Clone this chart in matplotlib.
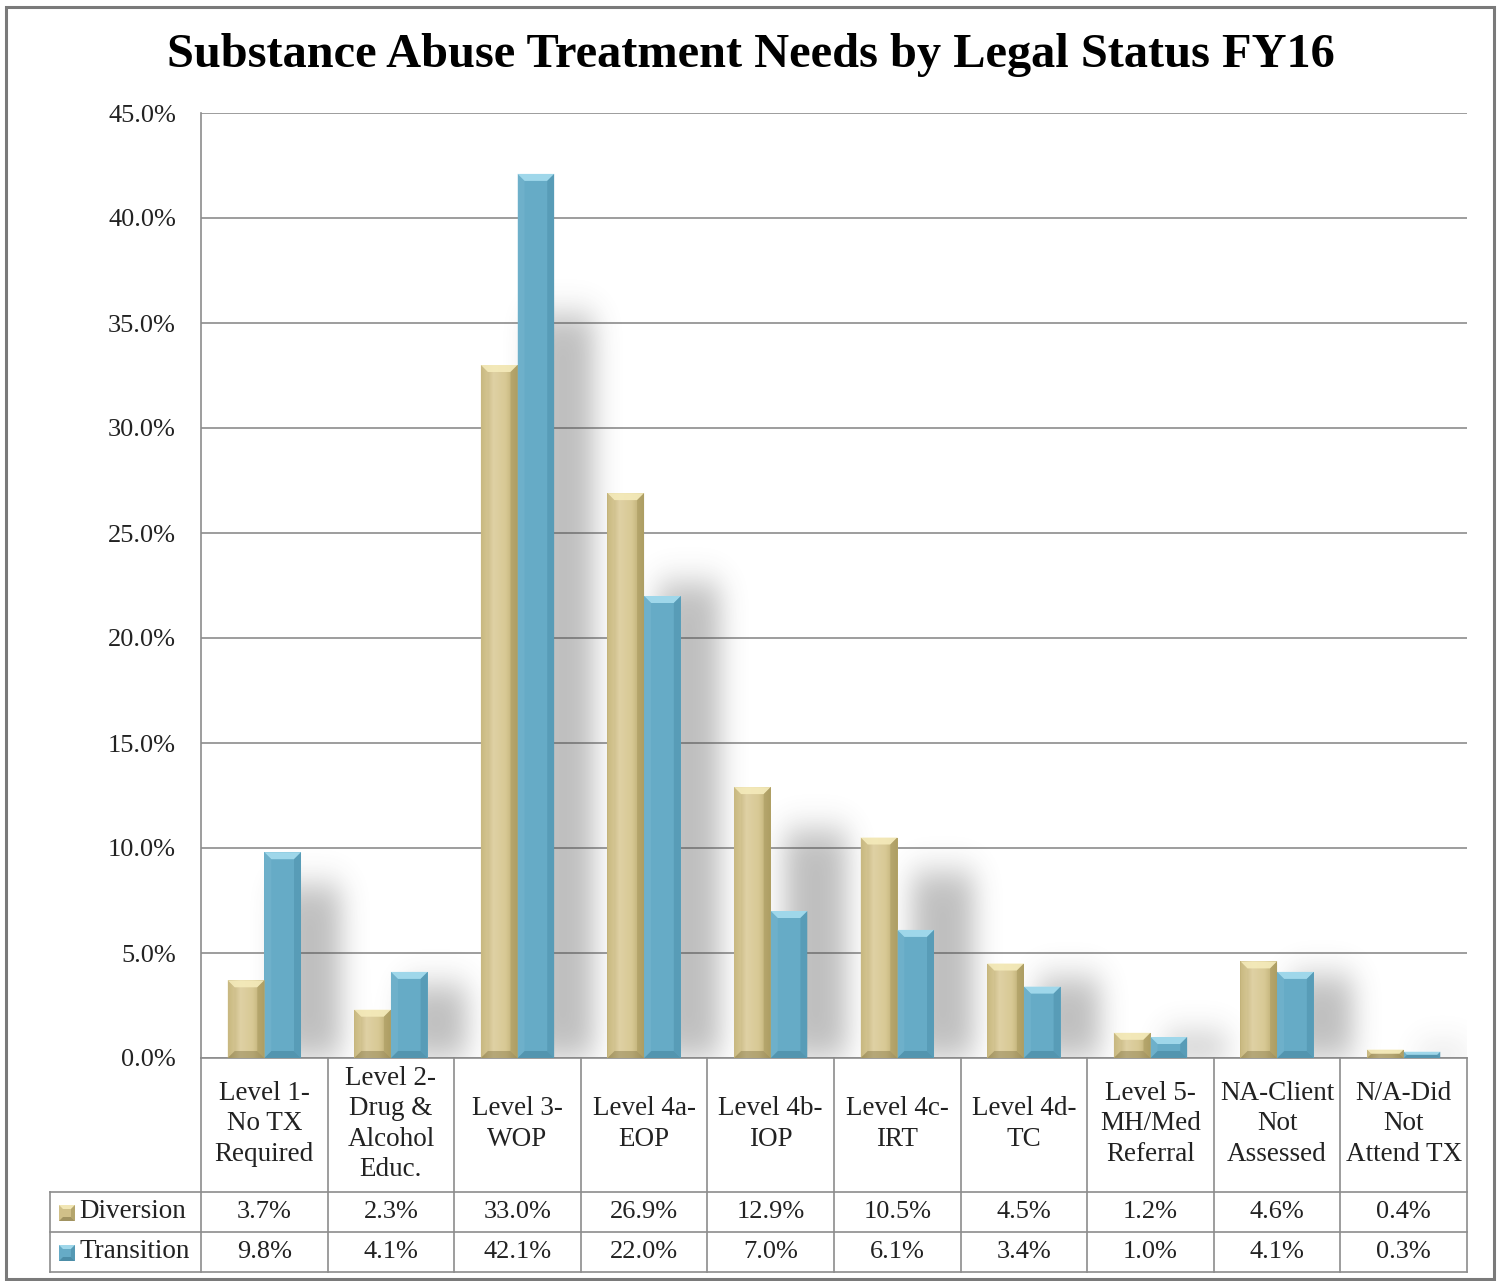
import numpy as np
import matplotlib
matplotlib.use("Agg")
import matplotlib.pyplot as plt
from matplotlib.patches import Polygon, Rectangle
from matplotlib.lines import Line2D

# ---------------- data ----------------
title = "Substance Abuse Treatment Needs by Legal Status FY16"
categories = ["Level 1-\nNo TX\nRequired", "Level 2-\nDrug &\nAlcohol\nEduc.",
              "Level 3-\nWOP", "Level 4a-\nEOP", "Level 4b-\nIOP",
              "Level 4c-\nIRT", "Level 4d-\nTC", "Level 5-\nMH/Med\nReferral",
              "NA-Client\nNot\nAssessed", "N/A-Did\nNot\nAttend TX"]
diversion = [3.7, 2.3, 33.0, 26.9, 12.9, 10.5, 4.5, 1.2, 4.6, 0.4]
transition = [9.8, 4.1, 42.1, 22.0, 7.0, 6.1, 3.4, 1.0, 4.1, 0.3]
series_names = ["Diversion", "Transition"]
yticks = [0, 5, 10, 15, 20, 25, 30, 35, 40, 45]

# ---------------- layout ----------------
W, H, DPI = 1501, 1281, 100
FONT = "Liberation Serif"
plt.rcParams["font.family"] = [FONT, "DejaVu Serif"]

fig = plt.figure(figsize=(W / DPI, H / DPI), dpi=DPI)
fig.patch.set_facecolor("white")

AX_L, AX_R, AX_T, AX_B = 201, 1467, 113, 1058
ax = fig.add_axes([AX_L / W, 1 - AX_B / H, (AX_R - AX_L) / W, (AX_B - AX_T) / H])
ncat = len(categories)
ax.set_xlim(0, ncat)
ax.set_ylim(0, 45)
ax.patch.set_visible(False)

GRID = "#8c8c8c"
ax.set_yticks(yticks)
ax.set_yticklabels([f"{v:.1f}%" for v in yticks], fontsize=19, color="#222222")
ax.tick_params(axis="y", length=0, pad=18)
ax.set_xticks([])
ax.yaxis.grid(True, color=GRID, lw=1.2, zorder=0)
ax.set_axisbelow(True)
for s in ["top", "right"]:
    ax.spines[s].set_visible(False)
ax.spines["left"].set_color(GRID)
ax.spines["left"].set_linewidth(1.2)
ax.spines["bottom"].set_color(GRID)
ax.spines["bottom"].set_linewidth(1.2)

px_x = ncat / (AX_R - AX_L)        # data units per pixel (x)
px_y = 45.0 / (AX_B - AX_T)        # data units per pixel (y)

bw = 0.29
xc = np.arange(ncat) + 0.5

# ---------------- soft shadows ----------------
nx, ny = AX_R - AX_L, AX_B - AX_T
shadow = np.zeros((ny, nx))
for i in range(ncat):
    top = max(diversion[i], transition[i]) * 0.84
    x0 = (xc[i] + bw) / px_x - 22
    x1 = x0 + 62
    ytop = ny - top / px_y
    shadow[int(max(ytop, 0)):ny, int(x0):int(min(x1, nx))] = 1.0

def blur(a, sigma, axis):
    r = int(3 * sigma)
    k = np.exp(-0.5 * (np.arange(-r, r + 1) / sigma) ** 2)
    k /= k.sum()
    return np.apply_along_axis(lambda m: np.convolve(m, k, mode="same"), axis, a)

shadow = blur(blur(shadow, 13, 1), 16, 0)
rgba = np.zeros((ny, nx, 4))
rgba[..., :3] = 0.3
rgba[..., 3] = shadow * 0.36
ax.imshow(rgba, extent=[0, ncat, 0, 45], aspect="auto", zorder=1, interpolation="bilinear")

# ---------------- beveled bars ----------------
gold = dict(face="#D0C089", top="#F5EBBB", left="#DACB97", right="#A99A60", bottom="#8E8050",
            grad=["#BBAA6F", "#DFD1A4", "#D8C995", "#B4A468"])
blue = dict(face="#66ABC6", top="#A6DDEF", left="#78B8D1", right="#4F92AD", bottom="#42819A",
            grad=None)

def draw_bar(x0, h, st):
    x1 = x0 + bw
    rect = Rectangle((x0, 0), bw, h, facecolor=st["face"], edgecolor="none", zorder=3)
    ax.add_patch(rect)
    if st["grad"] is not None:
        cols = [matplotlib.colors.to_rgb(c) for c in st["grad"]]
        g = np.linspace(0, 1, 60)
        stops = np.linspace(0, 1, len(cols))
        img = np.stack([np.interp(g, stops, [c[k] for c in cols]) for k in range(3)], axis=-1)
        im = ax.imshow(img[None, :, :], extent=[x0, x1, 0, h], aspect="auto", zorder=3.1,
                       interpolation="bilinear")
        im.set_clip_path(rect)
    dx = 7 * px_x
    dy = min(7 * px_y, h / 2)
    dxs = min(dx, dy / px_y * px_x) if h / 2 < 7 * px_y else dx
    polys = [
        ([(x0, h), (x1, h), (x1 - dxs, h - dy), (x0 + dxs, h - dy)], st["top"], 0.9),
        ([(x0, 0), (x1, 0), (x1 - dxs, dy), (x0 + dxs, dy)], st["bottom"], 0.5),
        ([(x0, 0), (x0, h), (x0 + dxs, h - dy), (x0 + dxs, dy)], st["left"], 0.45),
        ([(x1, 0), (x1, h), (x1 - dxs, h - dy), (x1 - dxs, dy)], st["right"], 0.6),
    ]
    for pts, c, a in polys:
        ax.add_patch(Polygon(pts, closed=True, facecolor=c, edgecolor="none", alpha=a, zorder=3.2))

for i in range(ncat):
    draw_bar(xc[i] - bw, diversion[i], gold)
    draw_bar(xc[i], transition[i], blue)

# ---------------- overlay for title, table, frame ----------------
ov = fig.add_axes([0, 0, 1, 1], zorder=-1)
ov.set_xlim(0, W)
ov.set_ylim(H, 0)
ov.axis("off")

ov.add_patch(Rectangle((6, 7), 1488, 1272, facecolor="none", edgecolor="#7a7a7a", lw=2.2))
ov.text(751, 55, title, ha="center", va="center", fontsize=34.8, fontweight="bold",
        color="black", family=[FONT, "DejaVu Serif"])

TL = "#8c8c8c"
ROW_TOP, ROW1, ROW2, ROW3 = AX_B, 1192, 1232, 1272
HDR_L = 50
colw = (AX_R - AX_L) / ncat
for i in range(ncat + 1):
    x = AX_L + i * colw
    ov.add_line(Line2D([x, x], [ROW_TOP, ROW3], color=TL, lw=1.2))
ov.add_line(Line2D([HDR_L, HDR_L], [ROW1, ROW3], color=TL, lw=1.2))
for y in (ROW1, ROW2, ROW3):
    ov.add_line(Line2D([HDR_L, AX_R], [y, y], color=TL, lw=1.2))

for i, lab in enumerate(categories):
    cx = AX_L + (i + 0.5) * colw
    ov.text(cx, (ROW_TOP + ROW1) / 2 - 1, lab, ha="center", va="center", fontsize=19.5,
            linespacing=1.27, color="#222222")
    ov.text(cx, (ROW1 + ROW2) / 2, f"{diversion[i]:.1f}%", ha="center", va="center",
            fontsize=19, color="#222222")
    ov.text(cx, (ROW2 + ROW3) / 2, f"{transition[i]:.1f}%", ha="center", va="center",
            fontsize=19, color="#222222")

# legend keys + row headers
for (y0, y1), name, st in zip([(ROW1, ROW2), (ROW2, ROW3)], series_names, [gold, blue]):
    cy = (y0 + y1) / 2
    k = 16
    kx0, ky0 = 59, cy - k / 2 + 1
    c = st["face"]
    ov.add_patch(Rectangle((kx0, ky0), k, k, facecolor=c, edgecolor="none"))
    b = 4
    ov.add_patch(Polygon([(kx0, ky0), (kx0 + k, ky0), (kx0 + k - b, ky0 + b), (kx0 + b, ky0 + b)],
                         facecolor=st["top"], alpha=0.9, edgecolor="none"))
    ov.add_patch(Polygon([(kx0, ky0 + k), (kx0 + k, ky0 + k), (kx0 + k - b, ky0 + k - b), (kx0 + b, ky0 + k - b)],
                         facecolor=st["bottom"], alpha=0.7, edgecolor="none"))
    ov.add_patch(Polygon([(kx0 + k, ky0), (kx0 + k, ky0 + k), (kx0 + k - b, ky0 + k - b), (kx0 + k - b, ky0 + b)],
                         facecolor=st["right"], alpha=0.7, edgecolor="none"))
    ov.text(79, cy - 1, name, ha="left", va="center", fontsize=19.5, color="#222222")

fig.savefig("out.png", dpi=DPI)
